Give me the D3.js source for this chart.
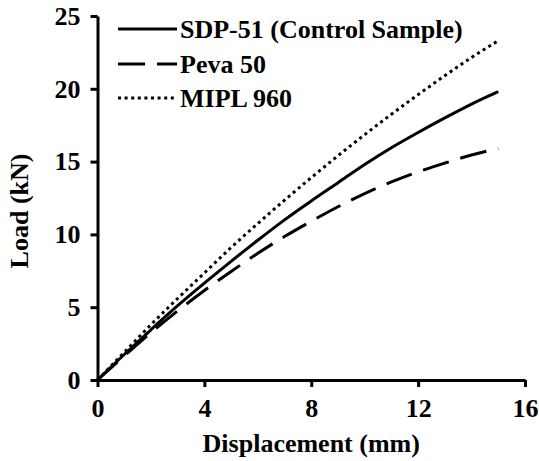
<!DOCTYPE html>
<html>
<head>
<meta charset="utf-8">
<script src="https://cdn.jsdelivr.net/npm/d3@7"></script>
</head>
<body style="margin:0">
<div id="plot"></div>
<script>
// displacement (mm)
const disp = [0, 1, 2, 3, 4, 5, 6, 7, 8, 9, 10, 11, 12, 13, 14, 15];
// load (kN) for each sample
const sdp51 = [0, 1.75, 3.45, 5.1, 6.65, 8.15, 9.6, 11.0, 12.3, 13.55, 14.8, 15.95, 17.0, 18.0, 18.95, 19.8];
const peva50 = [0, 1.65, 3.25, 4.75, 6.15, 7.45, 8.7, 9.85, 10.9, 11.9, 12.8, 13.6, 14.3, 14.9, 15.45, 15.9];
const mipl960 = [0, 1.9, 3.8, 5.6, 7.35, 9.1, 10.75, 12.35, 13.9, 15.4, 16.85, 18.25, 19.6, 20.9, 22.15, 23.3];

const seriesNames = ["SDP-51 (Control Sample)", "Peva 50", "MIPL 960"];
const xTicks = [0, 4, 8, 12, 16];
const yTicks = [0, 5, 10, 15, 20, 25];

const width = 539, height = 461;
const margin = {left: 97.5, right: 14, top: 16, bottom: 81};
const serif = "Liberation Serif";
const fontSize = 26;

const svg = d3.select("div#plot")
  .append("svg")
    .attr("width", width)
    .attr("height", height);

const x = d3.scaleLinear()
  .domain([0, 16])
  .range([margin.left, width - margin.right]);

const y = d3.scaleLinear()
  .domain([0, 25])
  .range([height - margin.bottom, margin.top]);

const dashes = ["none", "27,12", "3,3.6"];

const series = [sdp51, peva50, mipl960].map(function(vals, i) {
  return {name: seriesNames[i], dash: dashes[i], points: disp.map((d, j) => [d, vals[j]])};
});

function styleText(sel) {
  sel.attr("font-family", serif)
    .attr("font-weight", "bold")
    .attr("font-size", fontSize)
    .attr("fill", "#000");
}

// axes
const xAxis = svg.append("g")
  .attr("transform", `translate(0,${y(0)})`)
  .call(d3.axisBottom(x).tickValues(xTicks).tickSize(7).tickPadding(12).tickSizeOuter(0));

const yAxis = svg.append("g")
  .attr("transform", `translate(${x(0)},0)`)
  .call(d3.axisLeft(y).tickValues(yTicks).tickSize(7).tickPadding(10).tickSizeOuter(0));

[xAxis, yAxis].forEach(function(a) {
  a.select(".domain").attr("stroke", "#000").attr("stroke-width", 3);
  a.selectAll(".tick line").attr("stroke", "#000").attr("stroke-width", 3);
  a.selectAll(".tick text").call(styleText);
});

// lines
const line = d3.line()
  .x(d => x(d[0]))
  .y(d => y(d[1]))
  .curve(d3.curveMonotoneX);

svg.selectAll(".series")
  .data(series)
  .join("path")
  .attr("class", "series")
  .attr("d", d => line(d.points))
  .attr("fill", "none")
  .attr("stroke", "#000")
  .attr("stroke-width", 3)
  .attr("stroke-dasharray", d => d.dash);

// legend
const legendY = [29, 64, 98];
const legend = svg.selectAll(".legend")
  .data(series)
  .join("g")
  .attr("class", "legend")
  .attr("transform", (d, i) => `translate(118,${legendY[i]})`);

legend.append("line")
  .attr("x1", 0).attr("x2", 59)
  .attr("stroke", "#000")
  .attr("stroke-width", 3)
  .attr("stroke-dasharray", d => d.dash);

legend.append("text")
  .attr("x", 62)
  .attr("dy", "0.35em")
  .call(styleText)
  .text(d => d.name);

// axis titles
svg.append("text")
  .attr("x", (x(0) + x(16)) / 2)
  .attr("y", 452)
  .attr("text-anchor", "middle")
  .call(styleText)
  .text("Displacement (mm)");

svg.append("text")
  .attr("transform", "translate(28,211) rotate(-90)")
  .attr("text-anchor", "middle")
  .call(styleText)
  .text("Load (kN)");
</script>
</body>
</html>
